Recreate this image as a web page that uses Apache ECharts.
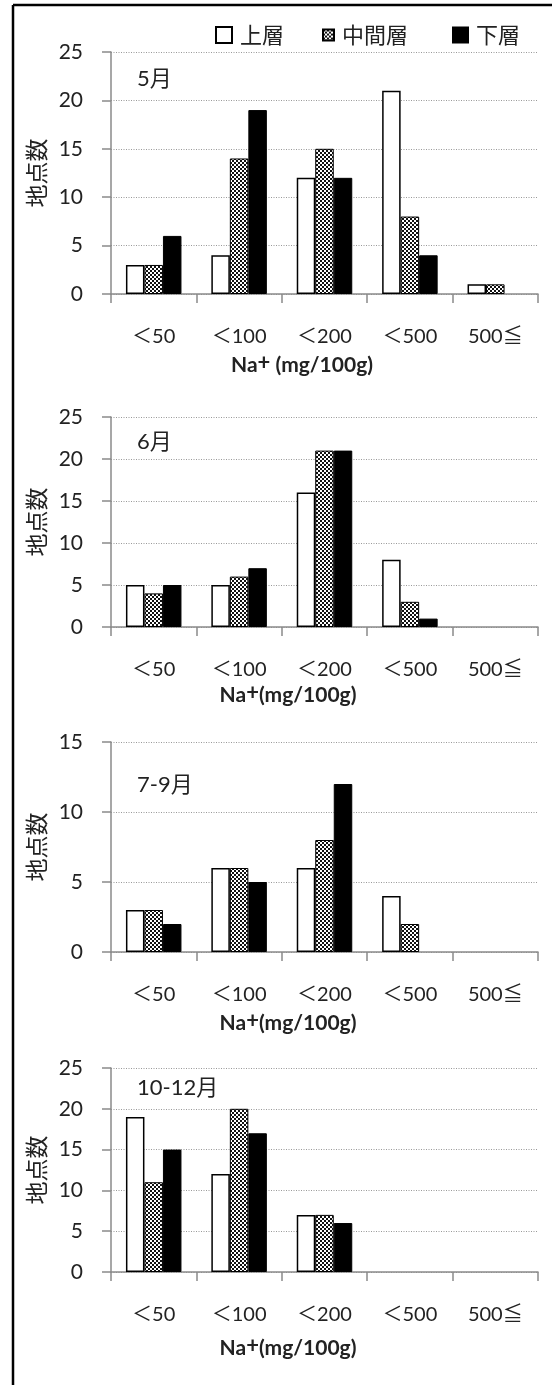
<!DOCTYPE html>
<html>
<head>
<meta charset="utf-8">
<script src="https://cdn.jsdelivr.net/npm/echarts@6/dist/echarts.min.js"></script>
<style>
  html, body { margin: 0; padding: 0; background: #fff; }
  #main { width: 552px; height: 1385px; }
</style>
</head>
<body>
<div id="main"></div>
<script>
// Na+ ranges (mg/100g)
const categories = ['＜50', '＜100', '＜200', '＜500', '500≦'];
const seriesNames = ['上層', '中間層', '下層'];
const panelTitles = ['5月', '6月', '7-9月', '10-12月'];
const yTicks25 = [0, 5, 10, 15, 20, 25];
const yTicks15 = [0, 5, 10, 15];

// 地点数
const mayUpper = [3, 4, 12, 21, 1];
const mayMiddle = [3, 14, 15, 8, 1];
const mayLower = [6, 19, 12, 4, 0];

const junUpper = [5, 5, 16, 8, 0];
const junMiddle = [4, 6, 21, 3, 0];
const junLower = [5, 7, 21, 1, 0];

const julSepUpper = [3, 6, 6, 4, 0];
const julSepMiddle = [3, 6, 8, 2, 0];
const julSepLower = [2, 5, 12, 0, 0];

const octDecUpper = [19, 12, 7, 0, 0];
const octDecMiddle = [11, 20, 7, 0, 0];
const octDecLower = [15, 17, 6, 0, 0];

const panelData = [
    [mayUpper, mayMiddle, mayLower],
    [junUpper, junMiddle, junLower],
    [julSepUpper, julSepMiddle, julSepLower],
    [octDecUpper, octDecMiddle, octDecLower]
];
const panelTicks = [yTicks25, yTicks25, yTicks15, yTicks25];

// layout of each panel: grid top / height, title pos, axis name pos
const panelLayout = [
    { top: 52, height: 242, titleTop: 68, nameTop: 352, nameX: 302, space: ' ' },
    { top: 417, height: 210, titleTop: 431, nameTop: 682, nameX: 288, space: '' },
    { top: 742, height: 210, titleTop: 774, nameTop: 1010, nameX: 288, space: '' },
    { top: 1068, height: 204, titleTop: 1077, nameTop: 1335, nameX: 288, space: '' }
];

const latin = 'Lato, "Noto Sans CJK JP", sans-serif';
const jp = '"Noto Sans CJK JP", sans-serif';
const textColor = '#222';
const axisGray = '#8a8a8a';

//中間層の点描パターン
function dotPattern() {
    const c = document.createElement('canvas');
    c.width = 4;
    c.height = 4;
    const ctx = c.getContext('2d');
    ctx.fillStyle = '#fff';
    ctx.fillRect(0, 0, 4, 4);
    ctx.fillStyle = '#111';
    ctx.fillRect(0, 0, 2, 2);
    ctx.fillRect(2, 2, 2, 2);
    return c;
}

const barStyles = [
    { color: '#fff', borderColor: '#000', borderWidth: 1.5 },
    { color: { image: dotPattern(), repeat: 'repeat' }, borderColor: '#000', borderWidth: 1 },
    { color: '#000', borderColor: '#000', borderWidth: 1 }
];

// 0件のカテゴリは棒を描かない
function toBarData(values) {
    return values.map(v => (v === 0 ? '-' : v));
}

const grid = [], xAxis = [], yAxis = [], series = [], title = [];

panelLayout.forEach((p, i) => {
    grid.push({ left: 111, right: 14, top: p.top, height: p.height });
    const ticks = panelTicks[i];
    xAxis.push({
        type: 'category',
        gridIndex: i,
        data: categories,
        axisLine: { lineStyle: { color: axisGray, width: 1.5 } },
        axisTick: { show: true, length: 9, lineStyle: { color: axisGray, width: 1.5 } },
        axisLabel: { margin: 33, fontSize: 20, color: textColor, fontFamily: latin }
    });
    yAxis.push({
        type: 'value',
        gridIndex: i,
        min: ticks[0],
        max: ticks[ticks.length - 1],
        interval: 5,
        name: '地点数',
        nameLocation: 'middle',
        nameRotate: 90,
        nameGap: 54,
        nameTextStyle: { fontSize: 23, color: textColor, fontFamily: jp },
        axisLine: { show: true, lineStyle: { color: axisGray, width: 1.5 } },
        axisTick: { show: true, length: 9, lineStyle: { color: axisGray, width: 1.5 } },
        axisLabel: { margin: 28, fontSize: 21, color: textColor, fontFamily: latin },
        splitLine: { lineStyle: { color: '#999', type: [1, 1.5], width: 1 } }
    });
    panelData[i].forEach((values, k) => {
        series.push({
            type: 'bar',
            name: seriesNames[k],
            xAxisIndex: i,
            yAxisIndex: i,
            data: toBarData(values),
            barGap: '0%',
            barCategoryGap: '35%',
            itemStyle: barStyles[k],
            emphasis: { disabled: true },
            animation: false
        });
    });
    title.push({
        text: panelTitles[i],
        left: 137,
        top: p.titleTop,
        padding: 0,
        textStyle: { fontSize: 22, fontWeight: 'normal', color: textColor, fontFamily: latin }
    });
    title.push({
        text: '{n|Na}{s|+}{n|' + p.space + '(mg/100g)}',
        left: p.nameX,
        textAlign: 'center',
        top: p.nameTop,
        padding: 0,
        textStyle: {
            rich: {
                n: { fontSize: 21, fontWeight: 'bold', color: textColor, fontFamily: latin, lineHeight: 26 },
                s: { fontSize: 22, fontWeight: 'bold', color: textColor, fontFamily: latin, lineHeight: 26, verticalAlign: 'top', padding: [0, 0, 7, 0] }
            }
        }
    });
});

// three legend boxes, each with its own swatch size
const legendLayout = [
    { left: 215, size: 16 },
    { left: 322, size: 11 },
    { left: 452, size: 15 }
];
const legend = legendLayout.map((l, k) => ({
    data: [seriesNames[k]],
    left: l.left,
    top: 24,
    padding: 0,
    icon: 'rect',
    itemWidth: l.size,
    itemHeight: l.size,
    itemGap: 0,
    selectedMode: false,
    textStyle: { fontSize: 22, color: textColor, fontFamily: jp, padding: [0, 0, 0, 3] }
}));

const chart = echarts.init(document.getElementById('main'));
chart.setOption({
    animation: false,
    backgroundColor: '#fff',
    title,
    legend,
    grid,
    xAxis,
    yAxis,
    series,
    graphic: [
        { type: 'line', shape: { x1: 13, y1: 5, x2: 552, y2: 5 }, style: { stroke: '#000', lineWidth: 2.5 } },
        { type: 'line', shape: { x1: 13, y1: 5, x2: 13, y2: 1385 }, style: { stroke: '#000', lineWidth: 2.5 } }
    ]
});
</script>
</body>
</html>
